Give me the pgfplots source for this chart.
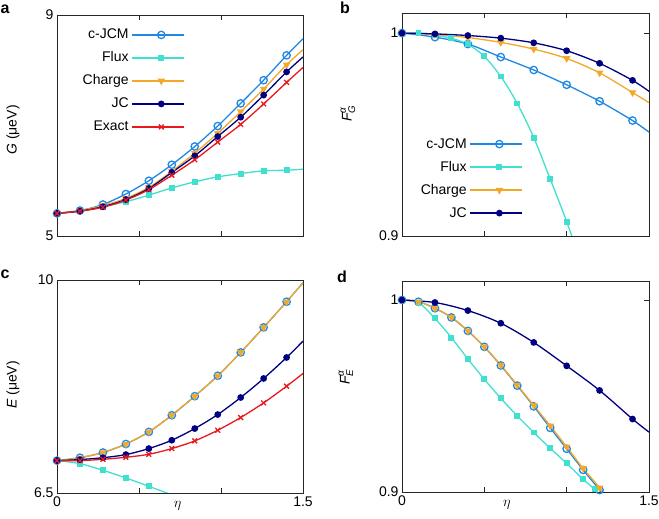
\documentclass[border=0pt]{standalone}
\usepackage{fontspec}
\setmainfont{Liberation Sans}
\usepackage{amsmath}
\usepackage{pgfplots}
\usepackage{pgfplotstable}
\pgfplotsset{compat=1.18}
\definecolor{cjcmc}{RGB}{30,136,229}
\definecolor{fluxc}{RGB}{64,224,208}
\definecolor{chargec}{RGB}{243,168,40}
\definecolor{jcc}{RGB}{0,0,128}
\definecolor{exactc}{RGB}{232,25,30}
\newcommand{\fs}{\fontsize{14}{16}\selectfont}

\tikzset{
  cjcm/.style={color=cjcmc, line width=1.3pt, mark=o, mark size=3.7pt},
  flux/.style={color=fluxc, line width=1.3pt, mark=square*, mark size=2.3pt},
  charge/.style={color=chargec, line width=1.3pt, mark=triangle*, mark size=3.1pt, mark options={rotate=180}},
  jc/.style={color=jcc, line width=1.3pt, mark=*, mark size=2.7pt},
  exact/.style={color=exactc, line width=1.3pt, mark=x, mark size=3.4pt},
}
\pgfplotsset{
  panel/.style={scale only axis, anchor=south west, xmin=0, xmax=1.5,
    axis line style={black!85, line width=0.8pt},
    every tick/.style={black!85, line width=0.8pt},
    tick align=inside, major tick length=5pt,
    xtick={0,0.5,1,1.5},
    ticklabel style={font=\fs},
    label style={font=\fs},
    /pgf/number format/assume math mode=true,
    legend cell align=right, legend plot pos=right,
    legend image code/.code={\draw[##1,mark=none] (0pt,0pt) -- (52pt,0pt); \draw[##1,only marks] plot coordinates {(29pt,0pt)};},
    legend style={draw=none, fill=none, inner sep=0pt, outer sep=0pt, row sep=11pt, column sep=3pt,
      nodes={inner sep=0pt, text height=10pt, text depth=2pt, font=\fs}},
  },
}

\pgfplotstableread{
x cj fl ch jc ex
0 5.41 5.41 5.41 5.41 5.41
0.14 5.46 5.45 5.46 5.45 5.45
0.28 5.57 5.53 5.55 5.53 5.52
0.42 5.76 5.62 5.68 5.66 5.65
0.56 6.00 5.74 5.88 5.86 5.84
0.70 6.29 5.87 6.17 6.15 6.10
0.84 6.62 5.98 6.50 6.45 6.38
0.98 6.99 6.07 6.86 6.80 6.70
1.12 7.40 6.13 7.25 7.15 7.02
1.26 7.82 6.18 7.66 7.55 7.39
1.40 8.27 6.19 8.10 7.97 7.78
1.50 8.57 6.21 8.37 8.24 8.05
}\tabA

\pgfplotstableread{
x jc ch cj
0 1.0 1.0 1.0
0.2 0.9996 0.9993 0.9980
0.4 0.9988 0.9978 0.9946
0.6 0.9975 0.9954 0.9882
0.8 0.9952 0.9921 0.9818
1.0 0.9913 0.9875 0.9745
1.2 0.9851 0.9804 0.9664
1.4 0.9767 0.9707 0.9569
1.5 0.9713 0.9657 0.9512
}\tabB

\pgfplotstableread{
x y
0 1.0
0.1 1.0
0.2 0.9990
0.3 0.9974
0.4 0.9945
0.5 0.9885
0.6 0.9786
0.7 0.9653
0.8 0.9485
0.9 0.9281
1.0 0.9071
1.1 0.884
}\tabBf

\pgfplotstableread{
x cj ch jc ex
0 7.032 7.032 7.032 7.032
0.14 7.08 7.08 7.049 7.032
0.28 7.165 7.165 7.08 7.054
0.42 7.305 7.305 7.131 7.087
0.56 7.504 7.504 7.23 7.136
0.70 7.778 7.778 7.367 7.23
0.84 8.091 8.091 7.559 7.356
0.98 8.426 8.426 7.789 7.531
1.12 8.810 8.810 8.069 7.74
1.26 9.221 9.221 8.382 7.981
1.40 9.643 9.643 8.727 8.255
1.50 9.956 9.956 8.996 8.464
}\tabC

\pgfplotstableread{
x y
0 7.032
0.14 6.983
0.28 6.873
0.42 6.747
0.56 6.61
0.70 6.47
}\tabCf

\pgfplotstableread{
x cj ch
0 1.0 1.0
0.1 0.9991 0.9991
0.2 0.9957 0.9957
0.3 0.9909 0.9910
0.4 0.9839 0.9840
0.5 0.9756 0.9757
0.6 0.9659 0.9661
0.7 0.9554 0.9557
0.8 0.9446 0.9451
0.9 0.9334 0.9345
1.0 0.9225 0.9235
1.1 0.9115 0.9123
1.2 0.9010 0.9022
1.3 0.8890 0.8905
}\tabD

\pgfplotstableread{
x y
0 1.0
0.2 0.9987
0.4 0.9945
0.6 0.9879
0.8 0.9779
1.0 0.9657
1.2 0.9529
1.4 0.9380
1.5 0.9312
}\tabDj

\pgfplotstableread{
x y
0 1.0
0.1 0.9986
0.2 0.9904
0.3 0.9804
0.4 0.9693
0.5 0.9587
0.6 0.9488
0.7 0.9396
0.8 0.9310
0.9 0.9228
1.0 0.9149
1.1 0.9066
1.17 0.9014
1.25 0.8945
}\tabDf

\begin{document}
\begin{tikzpicture}
\path[use as bounding box] (0pt,0pt) rectangle (659pt,519pt);

% ---------------- a ----------------
\begin{axis}[panel, at={(57pt,283pt)}, width=246pt, height=221pt,
  ymin=5, ymax=9, ytick={5,9}, xticklabels={{},{},{},{}},
  ylabel={\textit{G} (μeV)},
  ylabel style={at={(axis description cs:-0.179,0.48)}, anchor=center},
  legend style={at={(0.520,0.937)}, anchor=north east}]
\addlegendimage{cjcm}\addlegendentry{c-JCM}
\addlegendimage{flux}\addlegendentry{Flux}
\addlegendimage{charge}\addlegendentry{Charge}
\addlegendimage{jc}\addlegendentry{JC}
\addlegendimage{exact}\addlegendentry{Exact}
\addplot[cjcm, smooth, mark=none, forget plot] table[x=x,y=cj] {\tabA};
\addplot[cjcm, only marks, forget plot, restrict x to domain=0:1.45] table[x=x,y=cj] {\tabA};
\addplot[flux, smooth, mark=none, forget plot] table[x=x,y=fl] {\tabA};
\addplot[flux, only marks, forget plot, restrict x to domain=0:1.45] table[x=x,y=fl] {\tabA};
\addplot[charge, smooth, mark=none, forget plot] table[x=x,y=ch] {\tabA};
\addplot[charge, only marks, forget plot, restrict x to domain=0:1.45] table[x=x,y=ch] {\tabA};
\addplot[jc, smooth, mark=none, forget plot] table[x=x,y=jc] {\tabA};
\addplot[jc, only marks, forget plot, restrict x to domain=0:1.45] table[x=x,y=jc] {\tabA};
\addplot[exact, smooth, mark=none, forget plot] table[x=x,y=ex] {\tabA};
\addplot[exact, only marks, forget plot, restrict x to domain=0:1.45] table[x=x,y=ex] {\tabA};
\end{axis}

% ---------------- b ----------------
\begin{axis}[panel, at={(402pt,283pt)}, width=247pt, height=223pt,
  ymin=0.9, ymax=1.0099, ytick={0.9,1}, xticklabels={{},{},{},{}},
  ylabel={$\textit{F}^{\textit{α}}_{\textit{G}}$},
  ylabel style={at={(axis description cs:-0.219,0.55)}, anchor=center},
  legend style={at={(0.49,0.439)}, anchor=north east}]
\addlegendimage{cjcm}\addlegendentry{c-JCM}
\addlegendimage{flux}\addlegendentry{Flux}
\addlegendimage{charge}\addlegendentry{Charge}
\addlegendimage{jc}\addlegendentry{JC}
\addplot[cjcm, smooth, mark=none, forget plot] table[x=x,y=cj] {\tabB};
\addplot[cjcm, only marks, forget plot, restrict x to domain=0:1.45] table[x=x,y=cj] {\tabB};
\addplot[flux, smooth, mark=none, forget plot] table[x=x,y=y] {\tabBf};
\addplot[flux, only marks, forget plot, restrict x to domain=0:1.05] table[x=x,y=y] {\tabBf};
\addplot[charge, smooth, mark=none, forget plot] table[x=x,y=ch] {\tabB};
\addplot[charge, only marks, forget plot, restrict x to domain=0:1.45] table[x=x,y=ch] {\tabB};
\addplot[jc, smooth, mark=none, forget plot] table[x=x,y=jc] {\tabB};
\addplot[jc, only marks, forget plot, restrict x to domain=0:1.45] table[x=x,y=jc] {\tabB};
\end{axis}

% ---------------- c ----------------
\begin{axis}[panel, at={(57pt,26pt)}, width=246pt, height=213pt,
  ymin=6.5, ymax=10, ytick={6.5,10}, xticklabels={0,{},{},1.5},
  ylabel={\textit{E} (μeV)},
  ylabel style={at={(axis description cs:-0.179,0.507)}, anchor=center},
  xlabel={$\eta$},
  xlabel style={at={(axis description cs:0.49,0)}, anchor=north, yshift=-5pt}]
\addplot[cjcm, smooth, mark=none, forget plot] table[x=x,y=cj] {\tabC};
\addplot[cjcm, only marks, forget plot, restrict x to domain=0:1.45] table[x=x,y=cj] {\tabC};
\addplot[flux, smooth, mark=none, forget plot] table[x=x,y=y] {\tabCf};
\addplot[flux, only marks, forget plot, restrict x to domain=0:0.6] table[x=x,y=y] {\tabCf};
\addplot[charge, smooth, mark=none, forget plot] table[x=x,y=ch] {\tabC};
\addplot[charge, only marks, forget plot, restrict x to domain=0:1.45] table[x=x,y=ch] {\tabC};
\addplot[jc, smooth, mark=none, forget plot] table[x=x,y=jc] {\tabC};
\addplot[jc, only marks, forget plot, restrict x to domain=0:1.45] table[x=x,y=jc] {\tabC};
\addplot[exact, smooth, mark=none, forget plot] table[x=x,y=ex] {\tabC};
\addplot[exact, only marks, forget plot, restrict x to domain=0:1.45] table[x=x,y=ex] {\tabC};
\end{axis}

% ---------------- d ----------------
\begin{axis}[panel, at={(402pt,27pt)}, width=247pt, height=211pt,
  ymin=0.9, ymax=1.0099, ytick={0.9,1}, xticklabels={0,{},{},1.5},
  ylabel={$\textit{F}^{\textit{α}}_{\textit{E}}$},
  ylabel style={at={(axis description cs:-0.227,0.545)}, anchor=center},
  xlabel={$\eta$},
  xlabel style={at={(axis description cs:0.425,0)}, anchor=north, yshift=-5pt}]
\addplot[cjcm, smooth, mark=none, forget plot] table[x=x,y=cj] {\tabD};
\addplot[cjcm, only marks, forget plot, restrict x to domain=0:1.25] table[x=x,y=cj] {\tabD};
\addplot[flux, smooth, mark=none, forget plot] table[x=x,y=y] {\tabDf};
\addplot[flux, only marks, forget plot, restrict x to domain=0:1.2] table[x=x,y=y] {\tabDf};
\addplot[charge, smooth, mark=none, forget plot] table[x=x,y=ch] {\tabD};
\addplot[charge, only marks, forget plot, restrict x to domain=0:1.25] table[x=x,y=ch] {\tabD};
\addplot[jc, smooth, mark=none, forget plot] table[x=x,y=y] {\tabDj};
\addplot[jc, only marks, forget plot, restrict x to domain=0:1.45] table[x=x,y=y] {\tabDj};
\end{axis}

\node[font=\bfseries\fontsize{16}{18}\selectfont] at (5pt,510pt) {a};
\node[font=\bfseries\fontsize{16}{18}\selectfont] at (345pt,511pt) {b};
\node[font=\bfseries\fontsize{16}{18}\selectfont] at (5pt,245pt) {c};
\node[font=\bfseries\fontsize{16}{18}\selectfont] at (342pt,242pt) {d};
\end{tikzpicture}
\end{document}
